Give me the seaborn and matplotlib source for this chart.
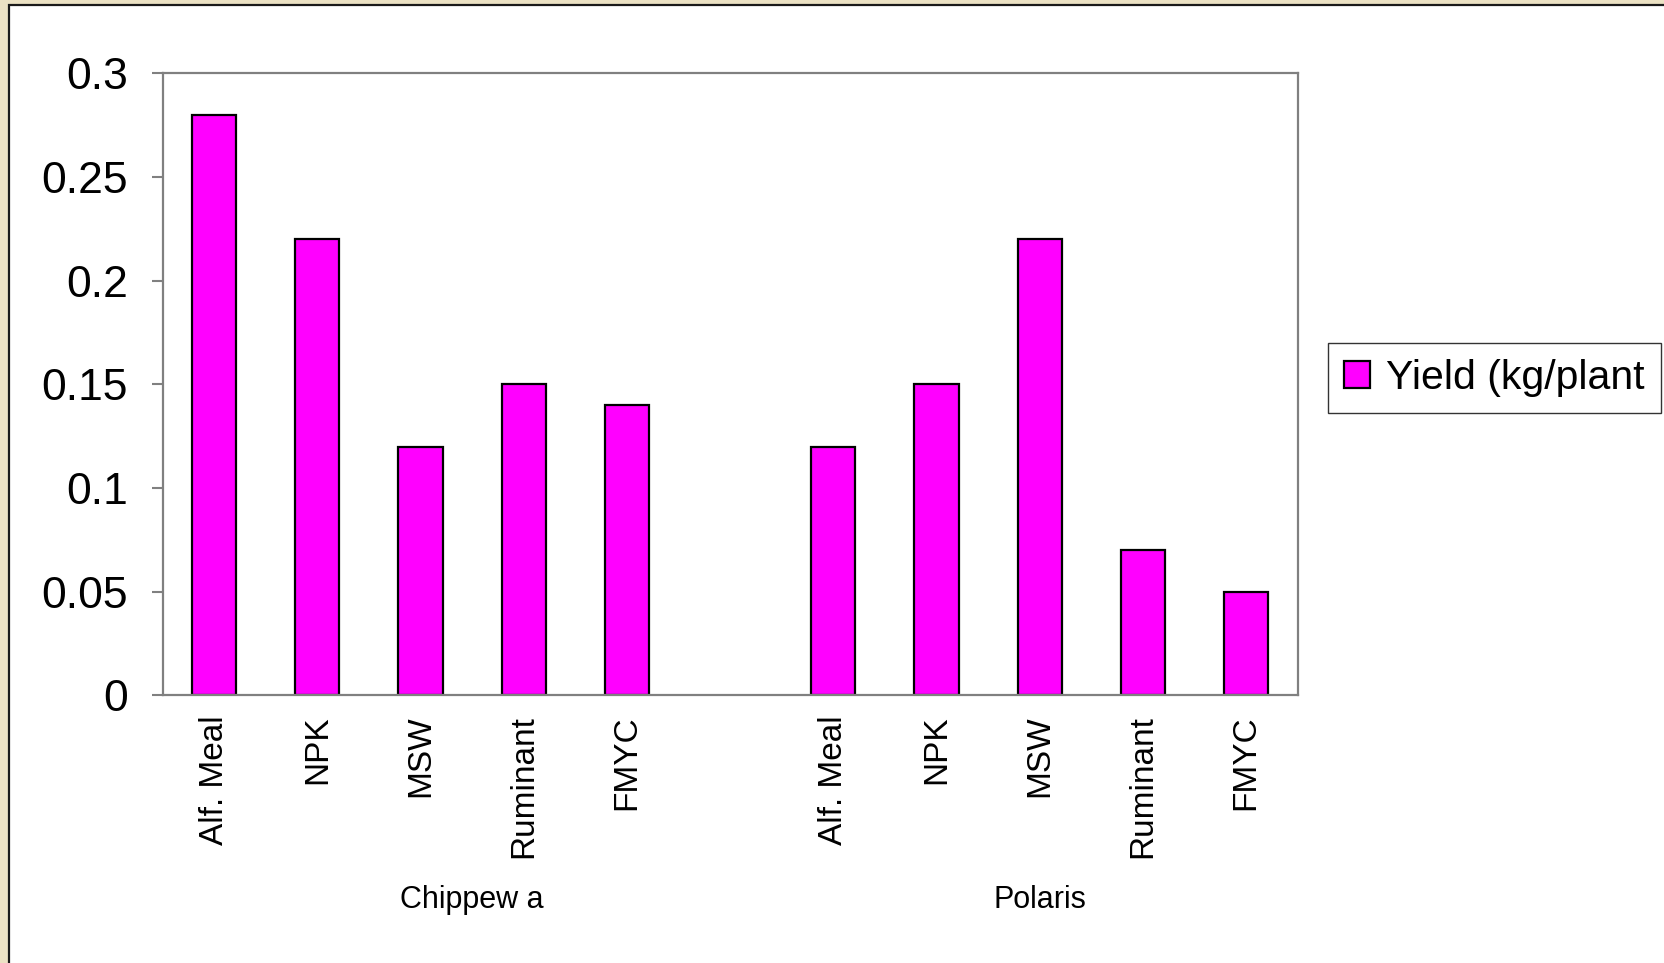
import matplotlib
matplotlib.use('Agg')
import matplotlib.pyplot as plt
from matplotlib.patches import Rectangle
import pandas as pd
import seaborn as sns

# yield per plant, two varieties, five treatments each
treatments = ['Alf. Meal', 'NPK', 'MSW', 'Ruminant', 'FMYC']
varieties = ['Chippew a', 'Polaris']
chippewa_yield = [0.28, 0.22, 0.12, 0.15, 0.14]
polaris_yield = [0.12, 0.15, 0.22, 0.07, 0.05]
yticks = [0, 0.05, 0.1, 0.15, 0.2, 0.25, 0.3]
ytick_labels = ['0', '0.05', '0.1', '0.15', '0.2', '0.25', '0.3']
legend_label = 'Yield (kg/plant'

# Excel-style layout: 5 bars, an empty slot, 5 bars
slots = [str(i) for i in range(11)]
df = pd.DataFrame({
    'slot': slots[:5] + slots[6:],
    'yield': chippewa_yield + polaris_yield,
})

sns.set_style('white')
plt.rcParams['font.family'] = ['Liberation Sans', 'DejaVu Sans']
plt.rcParams['text.color'] = 'black'
plt.rcParams['xtick.color'] = 'black'
plt.rcParams['ytick.color'] = 'black'

fig = plt.figure(figsize=(16.65, 9.63), dpi=100, facecolor='#ECE2C4')
fig.patches.append(Rectangle((9 / 1665, -0.1), 1.1, 1.1 - 5 / 963, transform=fig.transFigure,
                             facecolor='white', edgecolor='#1a1a1a', linewidth=1.6, zorder=-5))

ax = fig.add_axes([0.0976, 0.2778, 0.6818, 0.6461])
ax.set_zorder(2)
sns.barplot(data=df, x='slot', y='yield', order=slots, color='#FF00FF',
            saturation=1, width=0.43, edgecolor='black', linewidth=1.6, ax=ax)

ax.set_xlim(-0.5, 10.5)
ax.set_ylim(0, 0.3)
ax.set_yticks(yticks)
ax.set_yticklabels(ytick_labels, fontsize=32)
ax.set_xticks(range(11))
ax.set_xticklabels(treatments + [''] + treatments, rotation=90, fontsize=24)
ax.tick_params(axis='y', direction='out', length=8, width=1.5, color='#808080', pad=17, left=True)
ax.tick_params(axis='x', length=0, pad=14)
ax.set_xlabel('')
ax.set_ylabel('')
for s in ax.spines.values():
    s.set_color('#808080')
    s.set_linewidth(1.6)

# variety group labels under the treatment names
trans = matplotlib.transforms.blended_transform_factory(ax.transData, fig.transFigure)
ax.text(2.5, 1 - 900 / 963, varieties[0], transform=trans, ha='center', va='center', fontsize=22)
ax.text(8, 1 - 900 / 963, varieties[1], transform=trans, ha='center', va='center', fontsize=22)

handle = Rectangle((0, 0), 1, 1, facecolor='#FF00FF', edgecolor='black', linewidth=1.6)
leg = fig.legend([handle], [legend_label], loc='center left',
                 bbox_to_anchor=(1328 / 1665, 1 - 378 / 963), fontsize=29.5,
                 frameon=True, fancybox=False, handlelength=0.62, handleheight=0.62,
                 handletextpad=0.4, borderpad=0.4, borderaxespad=0)
leg.get_frame().set_edgecolor('black')
leg.get_frame().set_linewidth(1.0)
leg.set_zorder(3)

fig.savefig('out.png', dpi=100, facecolor=fig.get_facecolor())
